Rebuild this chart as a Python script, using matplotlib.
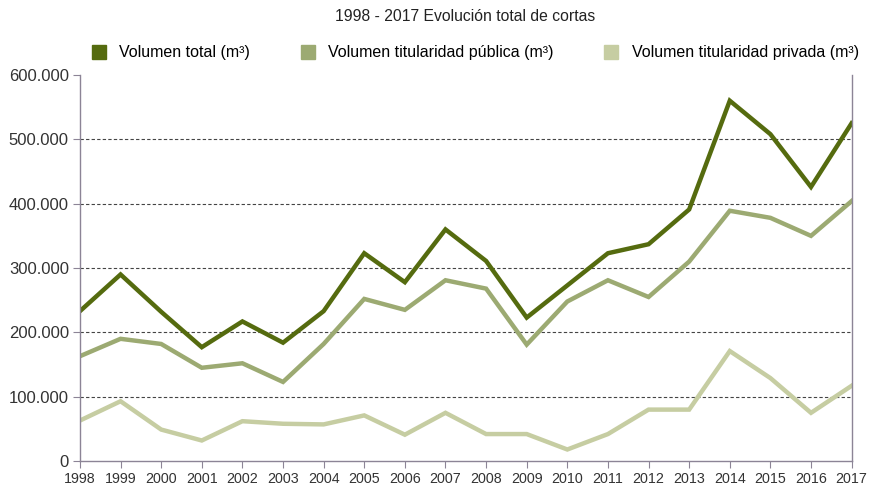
import matplotlib.pyplot as plt
from matplotlib.ticker import FuncFormatter
from matplotlib.lines import Line2D

anios = list(range(1998, 2018))
vol_total = [233, 290, 232, 177, 217, 184, 233, 323, 278, 360, 311, 223, 273, 323, 337, 391, 560, 508, 426, 525]
vol_publica = [163, 190, 182, 145, 152, 123, 182, 252, 235, 281, 268, 181, 248, 281, 255, 310, 389, 378, 350, 404]
vol_privada = [63, 93, 49, 32, 62, 58, 57, 71, 41, 75, 42, 42, 18, 42, 80, 80, 171, 129, 75, 117]
vol_total = [v * 1000 for v in vol_total]
vol_publica = [v * 1000 for v in vol_publica]
vol_privada = [v * 1000 for v in vol_privada]

c_total = '#556b0f'
c_publica = '#9caa72'
c_privada = '#c6cda2'
c_eje = '#8c8496'
fuente = ['Liberation Sans', 'DejaVu Sans']

fig = plt.figure(figsize=(8.69, 4.9), dpi=100)
ax = fig.add_axes([0.092, 0.059, 0.888, 0.788])

ax.plot(anios, vol_privada, color=c_privada, linewidth=3.2, solid_joinstyle='miter')
ax.plot(anios, vol_publica, color=c_publica, linewidth=3.2, solid_joinstyle='miter')
ax.plot(anios, vol_total, color=c_total, linewidth=3.2, solid_joinstyle='miter')

ax.set_xlim(1998, 2017)
ax.set_ylim(0, 600000)
ax.set_xticks(anios)
ax.set_xticklabels([str(a) for a in anios], family=fuente, fontsize=10.3, color='#333333')
ax.set_yticks(range(0, 600001, 100000))
ax.yaxis.set_major_formatter(FuncFormatter(lambda v, p: '0' if v == 0 else f'{int(v):,}'.replace(',', '.')))
for lbl in ax.get_yticklabels():
    lbl.set_fontfamily(fuente)
    lbl.set_fontsize(12)
    lbl.set_color('#333333')

for y in range(100000, 600000, 100000):
    ax.axhline(y, color='#444444', linestyle=(0, (3, 2)), linewidth=0.8, zorder=0)

for s in ['left', 'bottom', 'right']:
    ax.spines[s].set_color(c_eje)
    ax.spines[s].set_linewidth(1)
ax.spines['top'].set_visible(False)
ax.tick_params(axis='both', color=c_eje, length=5, direction='out', pad=3)
ax.tick_params(axis='x', pad=3)

fig.text(0.535, 0.967, '1998 - 2017 Evolución total de cortas', ha='center', va='center',
         family=fuente, fontsize=11.3, color='#222222')

handles = [Line2D([], [], marker='s', linestyle='none', markersize=10, color=c)
           for c in (c_total, c_publica, c_privada)]
labels = ['Volumen total (m³)', 'Volumen titularidad pública (m³)', 'Volumen titularidad privada (m³)']
fig.legend(handles, labels, loc='center', bbox_to_anchor=(0.542, 0.892), ncol=3, frameon=False,
           prop={'family': fuente, 'size': 11.5}, handletextpad=0.3, columnspacing=2.6)

plt.savefig('out.png', dpi=100)
